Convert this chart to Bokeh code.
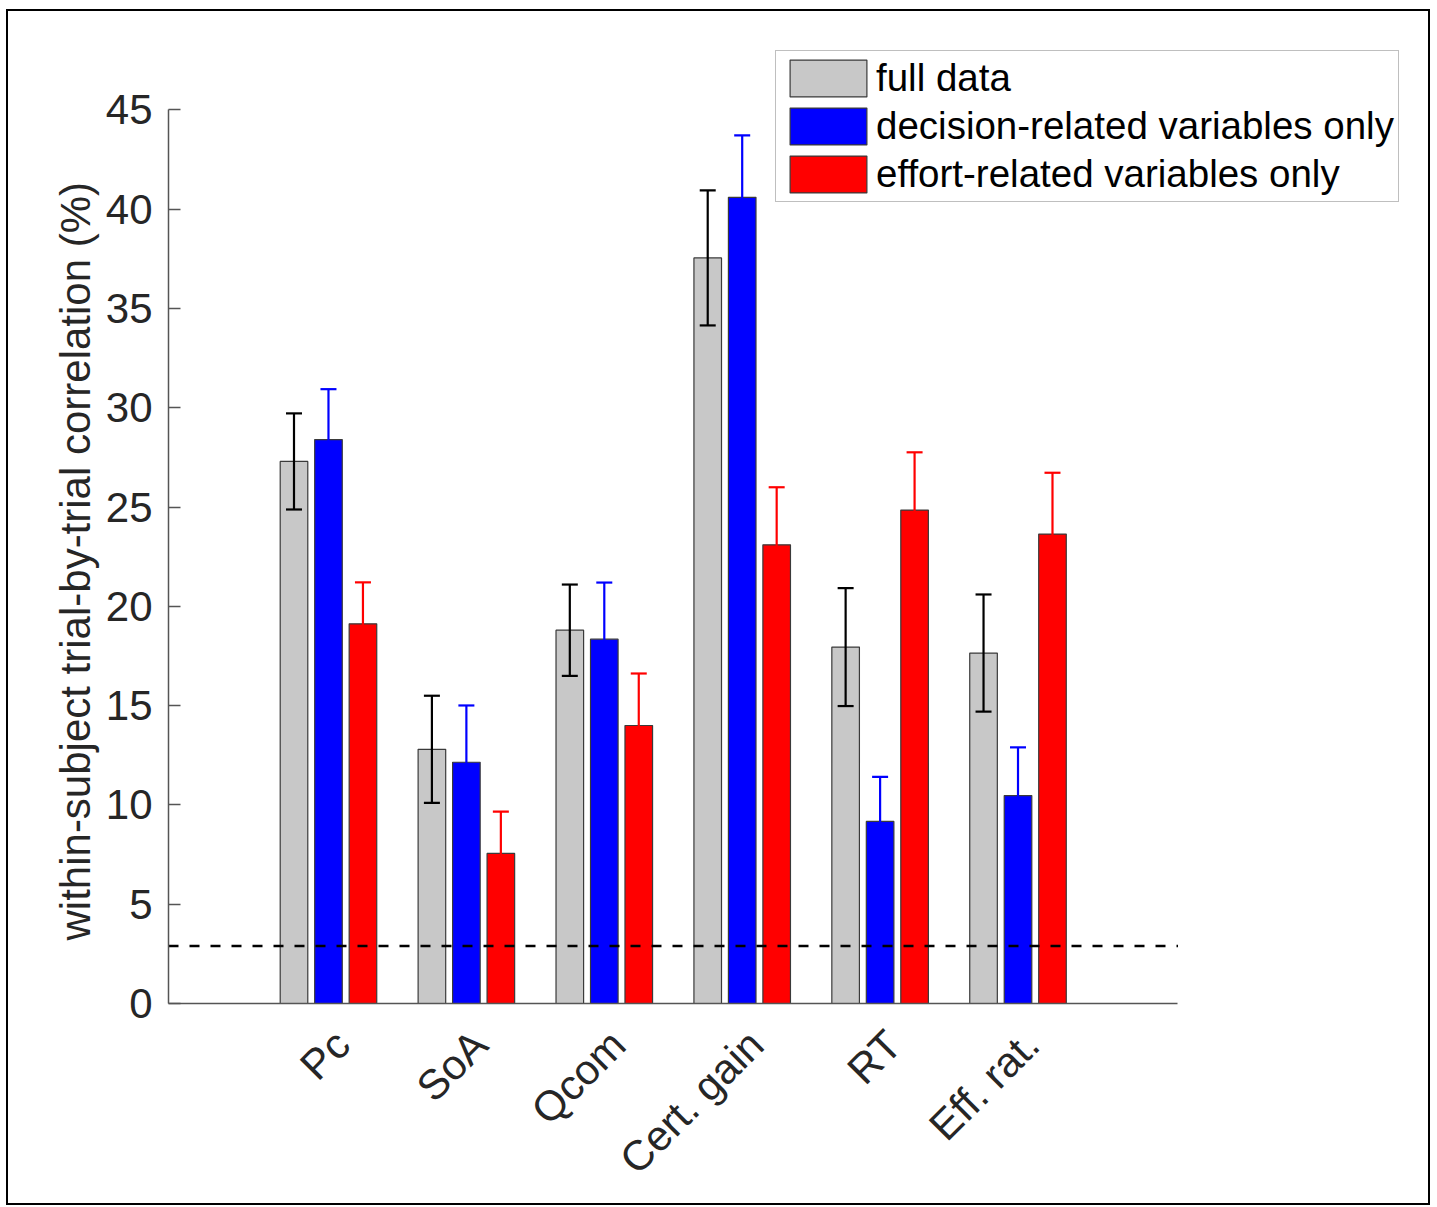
import math
from bokeh.plotting import figure
from bokeh.models import (ColumnDataSource, Range1d, FixedTicker, Whisker,
                          TeeHead, Legend, LegendItem, Title)
from bokeh.embed import file_html
from bokeh.resources import INLINE

# ---- data ----
categories = ["Pc", "SoA", "Qcom", "Cert. gain", "RT", "Eff. rat."]
full_data = [27.3, 12.8, 18.8, 37.55, 17.95, 17.65]
full_err = [2.42, 2.7, 2.3, 3.4, 2.97, 2.95]
decision_only = [28.4, 12.15, 18.35, 40.6, 9.17, 10.47]
decision_err = [2.54, 2.86, 2.85, 3.12, 2.24, 2.43]
effort_only = [19.12, 7.56, 14.0, 23.1, 24.85, 23.64]
effort_err = [2.09, 2.1, 2.62, 2.9, 2.91, 3.09]
chance_level = 2.9
series_names = ["full data", "decision-related variables only",
                "effort-related variables only"]
y_ticks = [0, 5, 10, 15, 20, 25, 30, 35, 40, 45]
y_label = "within-subject trial-by-trial correlation (%)"

# ---- styling / layout ----
FONT = "Liberation Sans"
colors = ["#c8c8c8", "#0000ff", "#ff0000"]
err_colors = ["#000000", "#0000ff", "#ff0000"]
offsets = [-0.25, 0.0, 0.25]
BAR_W = 0.2
X_AXIS_LIM = (-0.16, 7.16)
Y_AXIS_LIM = (0, 45)
LABEL_SHIFT = 0.1

p = figure(width=1424, height=1196, output_backend="svg", toolbar_location=None,
           x_range=Range1d(-0.16, 8.817), y_range=Range1d(0, 48.5),
           min_border_left=160, min_border_right=26,
           min_border_top=29, min_border_bottom=204)
p.margin = (9, 0, 0, 6)
p.styles = {"border": "2px solid #000000"}
p.outline_line_color = None
p.xgrid.visible = False
p.ygrid.visible = False
p.background_fill_color = "white"
p.border_fill_color = "white"

renderers = []
for k, (means, errs) in enumerate([(full_data, full_err),
                                   (decision_only, decision_err),
                                   (effort_only, effort_err)]):
    xs = [i + 1 + offsets[k] for i in range(len(categories))]
    src = ColumnDataSource(dict(
        x=xs, top=means,
        upper=[m + e for m, e in zip(means, errs)],
        lower=[m - e for m, e in zip(means, errs)]))
    r = p.vbar(x="x", top="top", bottom=0, width=BAR_W, source=src,
               fill_color=colors[k], line_color="#3a3a3a", line_width=1.2)
    renderers.append(r)
    w = Whisker(base="x", upper="upper", lower="lower", source=src,
                line_color=err_colors[k], line_width=2.2, level="overlay",
                upper_head=TeeHead(size=16, line_color=err_colors[k], line_width=2.2),
                lower_head=TeeHead(size=16, line_color=err_colors[k], line_width=2.2))
    p.add_layout(w)

# chance level across the x-axis extent
p.line(x=list(X_AXIS_LIM), y=[chance_level, chance_level], line_color="#000000",
       line_width=2.5, line_dash="10 11")

# axes
tick_pos = [i + 1 + LABEL_SHIFT for i in range(len(categories))]
p.xaxis.ticker = FixedTicker(ticks=tick_pos)
p.xaxis.major_label_overrides = {t: c for t, c in zip(tick_pos, categories)}
p.xaxis.major_label_orientation = math.pi / 4
p.xaxis.bounds = X_AXIS_LIM
p.yaxis.ticker = FixedTicker(ticks=y_ticks)
p.yaxis.bounds = Y_AXIS_LIM
for ax in (p.xaxis, p.yaxis):
    ax.axis_line_color = "#555555"
    ax.axis_line_width = 1.5
    ax.major_tick_line_color = "#555555"
    ax.major_tick_line_width = 1.5
    ax.minor_tick_line_color = None
    ax.major_label_text_font = FONT
    ax.major_label_text_font_size = "42px"
    ax.major_label_text_color = "#262626"
p.xaxis.major_tick_in = 0
p.xaxis.major_tick_out = 0
p.xaxis.major_label_standoff = 34
p.yaxis.major_tick_in = 12
p.yaxis.major_tick_out = 0
p.yaxis.major_label_standoff = 16

# y-axis label (as a side title so it can sit along the 0-45 axis)
ylab = Title(text=y_label, align="left", offset=63, standoff=8,
             text_font=FONT, text_font_size="42px", text_font_style="normal",
             text_color="#262626")
p.add_layout(ylab, "left")

legend = Legend(items=[LegendItem(label=series_names[k], renderers=[renderers[k]])
                       for k in range(3)],
                location=(607, 801), orientation="vertical",
                label_text_font=FONT, label_text_font_size="38.5px",
                label_text_color="#000000",
                glyph_width=96, glyph_height=46, label_standoff=-8,
                spacing=2, padding=4, margin=0,
                border_line_color="#7f7f7f", border_line_width=1.5,
                background_fill_color="white", background_fill_alpha=1.0)
p.add_layout(legend, "center")

open("out.html", "w").write(file_html(p, INLINE))
